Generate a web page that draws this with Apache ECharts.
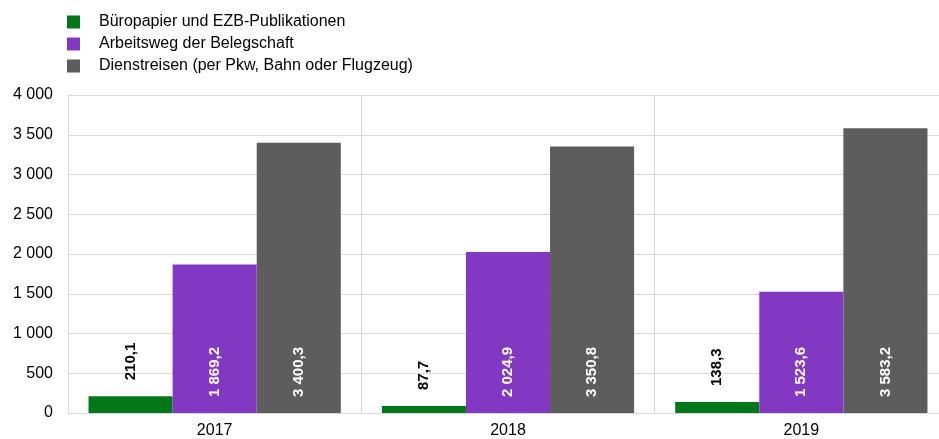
<!DOCTYPE html>
<html>
<head>
<meta charset="utf-8">
<script src="https://cdn.jsdelivr.net/npm/echarts@6/dist/echarts.min.js"></script>
<style>
  html, body { margin: 0; padding: 0; background: #fff; }
  #chart { width: 939px; height: 439px; }
</style>
</head>
<body>
<div id="chart"></div>
<script>
const years = ['2017', '2018', '2019']
const seriesNames = [
  'Büropapier und EZB-Publikationen',
  'Arbeitsweg der Belegschaft',
  'Dienstreisen (per Pkw, Bahn oder Flugzeug)'
]
const papier = [210.1, 87.7, 138.3]
const arbeitsweg = [1869.2, 2024.9, 1523.6]
const dienstreisen = [3400.3, 3350.8, 3583.2]
const colors = ['#00781a', '#8338c4', '#5d5d5d']

// Zahlen im deutschen Format: 1 869,2
function fmt(v, dec) {
  const parts = v.toFixed(dec).split('.')
  const int = parts[0].replace(/\B(?=(\d{3})+(?!\d))/g, ' ')
  return parts.length > 1 ? int + ',' + parts[1] : int
}

const chart = echarts.init(document.getElementById('chart'))

function barSeries(name, data, color, inside) {
  return {
    name: name,
    type: 'bar',
    data: data,
    barGap: '0%',
    barCategoryGap: '14%',
    itemStyle: { color: color },
    label: {
      show: true,
      rotate: 90,
      position: inside ? 'insideBottom' : 'top',
      distance: 16,
      align: 'left',
      verticalAlign: 'middle',
      color: inside ? '#fff' : '#000',
      fontFamily: 'Liberation Sans',
      fontWeight: 'bold',
      fontSize: 15,
      formatter: p => fmt(p.value, 1)
    }
  }
}

chart.setOption({
  animation: false,
  textStyle: { fontFamily: 'Liberation Sans' },
  legend: {
    orient: 'vertical',
    left: 62,
    top: 9,
    itemWidth: 13,
    itemHeight: 13,
    itemGap: 6,
    icon: 'rect',
    textStyle: { fontSize: 16, color: '#000', padding: [0, 0, 0, 14] },
    data: seriesNames
  },
  grid: { left: 68, width: 880, top: 95, bottom: 26, outerBoundsMode: 'none' },
  xAxis: {
    type: 'category',
    data: years,
    axisLine: { lineStyle: { color: '#d9d9d9' } },
    axisTick: { show: false },
    axisLabel: { color: '#000', fontSize: 16, margin: 10 },
    splitLine: { show: true, lineStyle: { color: '#d9d9d9' } }
  },
  yAxis: {
    type: 'value',
    min: 0,
    max: 4000,
    interval: 500,
    axisLine: { show: true, lineStyle: { color: '#d9d9d9' } },
    axisTick: { show: false },
    axisLabel: { color: '#000', fontSize: 16, margin: 15, formatter: v => fmt(v, 0) },
    splitLine: { lineStyle: { color: '#d9d9d9' } }
  },
  series: [
    barSeries(seriesNames[0], papier, colors[0], false),
    barSeries(seriesNames[1], arbeitsweg, colors[1], true),
    barSeries(seriesNames[2], dienstreisen, colors[2], true)
  ]
})
</script>
</body>
</html>
